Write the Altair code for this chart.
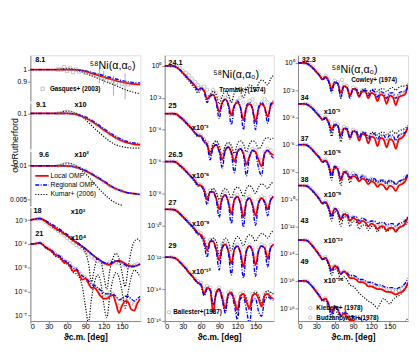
import altair as alt
import pandas as pd

FONT = "Liberation Sans"
RED, BLUE, BLACK, GRAY = "#ff0000", "#0000ff", "#000000", "#8a8a8a"

# ---------------- angles ----------------
ANG = [0, 5, 10, 15, 20, 25, 30, 35, 40, 45, 50, 55, 60, 65, 70, 75, 80, 85, 90,
       95, 100, 105, 110, 115, 120, 125, 130, 135, 140, 145, 150, 155, 160, 165,
       170, 175, 180]
DANG = ANG[2:-1]  # 10..175
ANG10 = [0, 10, 20, 30, 40, 50, 60, 70, 80, 90, 100, 110, 120, 130, 140, 150, 160, 170, 180]

# ---------------- panel 1 (8.1 - 21 MeV) ----------------
A_RED = [1, 1, 1, 1, 1, 1, 1, 1.0, 0.995, 0.985, 0.97, 0.955, 0.94, 0.925, 0.91, 0.898, 0.889, 0.882, 0.878]
A_BLUE = [1, 1, 1, 1, 1, 1, 1, 1.0, 0.997, 0.99, 0.978, 0.965, 0.952, 0.938, 0.924, 0.912, 0.902, 0.895, 0.892]
A_KUM = [1, 1, 1, 1, 1.0, 1.005, 1.01, 1.005, 0.99, 0.97, 0.95, 0.93, 0.91, 0.89, 0.87, 0.85, 0.83, 0.815, 0.805]
A_DANG = [45, 50, 55, 60, 65, 70, 75, 80, 90, 100, 110, 120, 130, 140, 150, 160]
A_DAT = [1.0, 1.0, 1.02, 0.99, 1.01, 0.98, 1.0, 0.985, 0.975, 0.965, 0.95, 0.93, 0.91, 0.895, 0.885, 0.88]
A_ERR_ANG = [113, 120, 136, 155]
A_ERR_LO = [0.89, 0.88, 0.79, 0.76]
A_ERR_HI = [1.01, 0.99, 0.95, 0.97]

B_RED = [0.1, 0.1, 0.1, 0.1, 0.1, 0.1, 0.1, 0.099, 0.096, 0.091, 0.085, 0.078, 0.071, 0.065, 0.06, 0.0565, 0.054, 0.0525, 0.052]
B_BLUE = [0.1, 0.1, 0.1, 0.1, 0.1, 0.1, 0.1, 0.0995, 0.097, 0.093, 0.087, 0.08, 0.073, 0.067, 0.062, 0.058, 0.0555, 0.054, 0.0535]
B_KUM = [0.1, 0.1, 0.1, 0.1, 0.1, 0.102, 0.105, 0.103, 0.097, 0.088, 0.078, 0.069, 0.062, 0.056, 0.052, 0.05, 0.049, 0.0485, 0.0485]
B_DANG = [45, 50, 55, 60, 65, 70, 75, 80, 90, 100, 110, 120, 130, 140, 150]
B_DAT = [0.1, 0.101, 0.103, 0.104, 0.102, 0.1, 0.098, 0.096, 0.092, 0.085, 0.078, 0.071, 0.065, 0.061, 0.057]

C_RED = [0.01, 0.01, 0.01, 0.01, 0.01, 0.01, 0.01, 0.0098, 0.0095, 0.009, 0.0084, 0.0078, 0.0072, 0.0066, 0.0062, 0.0059, 0.0057, 0.0056, 0.0055]
C_BLUE = [0.01, 0.01, 0.01, 0.01, 0.01, 0.01, 0.01, 0.0099, 0.0096, 0.0091, 0.0085, 0.0079, 0.0073, 0.0067, 0.0062, 0.0059, 0.0057, 0.0056, 0.0055]
C_KUM = [0.01, 0.01, 0.01, 0.01, 0.01, 0.0102, 0.0106, 0.0103, 0.0095, 0.0085, 0.0074, 0.0064, 0.0056, 0.005, 0.0046, 0.0044]
C_DANG = [45, 50, 55, 60, 65, 70, 75, 80, 90, 100, 110, 120, 130, 140, 150]
C_DAT = [0.01, 0.0101, 0.0103, 0.0104, 0.0102, 0.01, 0.0098, 0.0096, 0.0091, 0.0085, 0.0078, 0.0071, 0.0066, 0.0062, 0.0059]

# section D: absolute log10 values
D18_RED = [-3.0, -2.97, -2.95, -2.93, -2.97, -3.05, -3.15, -3.23, -3.32, -3.4,
           -3.47, -3.56, -3.65, -3.75, -3.85, -3.94, -4.03, -4.11, -4.2,
           -4.31, -4.42, -4.52, -4.62, -4.71, -4.8, -4.85, -4.88, -4.8, -4.72,
           -4.7, -4.75, -4.82, -4.9, -4.93, -4.93, -4.9, -4.85]
D18_BLUE = [-3.0, -2.97, -2.95, -2.94, -2.97, -3.03, -3.1, -3.17, -3.25, -3.33,
            -3.42, -3.51, -3.6, -3.7, -3.8, -3.9, -4.0, -4.1, -4.2,
            -4.31, -4.42, -4.52, -4.62, -4.7, -4.78, -4.81, -4.82, -4.76, -4.7,
            -4.74, -4.8, -4.88, -4.95, -4.96, -4.95, -4.9, -4.85]
D18_KUM = [-3.0, -2.97, -2.95, -2.94, -2.98, -3.07, -3.17, -3.26, -3.36, -3.45,
           -3.52, -3.6, -3.68, -3.78, -3.88, -3.96, -4.05, -4.15, -4.35,
           -4.8, -5.6, -5.0, -4.6, -4.7, -5.3, -5.9, -5.1, -4.6, -4.4,
           -4.6, -5.2, -5.8, -5.0, -4.3, -3.9, -3.8, -3.9]
D18_DAT = [-2.96, -2.94, -2.98, -3.08, -3.18, -3.28, -3.35, -3.45, -3.55, -3.63,
           -3.75, -3.85, -3.95, -4.05, -4.12, -4.2, -4.32, -4.42, -4.55, -4.62,
           -4.72, -4.78, -4.82, -4.85, -4.75, -4.72, -4.78, -4.82, -4.85, -4.9,
           -4.95, -4.92, -4.9, -4.85]
D21_RED = [-4.0, -4.0, -3.98, -3.96, -4.02, -4.15, -4.22, -4.3, -4.45, -4.5,
           -4.6, -4.78, -4.8, -4.95, -5.15, -5.1, -5.3, -5.5, -5.45,
           -5.65, -5.85, -5.85, -6.0, -6.2, -6.3, -6.3, -6.2, -6.15, -6.5,
           -6.9, -6.6, -6.4, -6.45, -6.75, -6.8, -6.5, -6.3]
D21_BLUE = [-4.0, -4.0, -3.98, -3.96, -4.02, -4.13, -4.2, -4.28, -4.4, -4.47,
            -4.55, -4.7, -4.75, -4.88, -5.02, -5.05, -5.2, -5.35, -5.4,
            -5.55, -5.7, -5.75, -5.85, -5.95, -6.05, -6.1, -6.1, -6.12, -6.2,
            -6.35, -6.3, -6.2, -6.2, -6.3, -6.4, -6.3, -6.2]
D21_KUM = [-4.0, -4.0, -3.98, -3.96, -4.03, -4.17, -4.25, -4.35, -4.5, -4.56,
           -4.66, -4.8, -4.85, -5.0, -5.2, -5.25, -5.4, -5.8, -6.6,
           -7.3, -6.3, -5.6, -5.3, -5.6, -6.5, -7.1, -6.2, -5.5, -5.2,
           -5.4, -6.0, -6.7, -6.0, -5.4, -5.1, -5.2, -5.4]
D21_DAT = [-3.98, -3.96, -4.0, -4.12, -4.2, -4.28, -4.4, -4.48, -4.55, -4.7,
           -4.75, -4.82, -5.0, -5.05, -5.2, -5.35, -5.4, -5.55, -5.7, -5.75,
           -5.9, -6.0, -6.1, -6.15, -6.05, -6.1, -6.3, -6.6, -6.35, -6.25,
           -6.3, -6.5, -6.55, -6.4]

# ---------------- panel 2 (24.1 - 29 MeV) relative log10 ----------------
P2_E = ["24.1", "25", "26.5", "27", "29"]
P2_OFF = [0, -3, -6, -9, -12]
P2_RED = [
    [0, 0, 0, -0.02, -0.1, -0.25, -0.45, -0.65, -0.85, -1.05, -1.25, -1.5, -1.4, -1.55, -2.1,
     -1.9, -1.8, -2.2, -2.9, -2.3, -2.1, -2.4, -3.1, -2.5, -2.3, -2.6, -3.4, -2.6, -2.4, -2.7,
     -3.5, -2.7, -2.4, -2.6, -3.2, -2.5, -2.3],
    [0, 0, 0, 0, -0.05, -0.2, -0.35, -0.55, -0.75, -0.95, -1.2, -1.35, -1.4, -1.75, -1.9,
     -2.6, -2.1, -1.95, -2.3, -2.9, -2.3, -2.1, -2.4, -3.0, -2.4, -2.2, -2.5, -3.2, -2.7, -2.3,
     -2.4, -2.9, -3.3, -2.5, -2.3, -2.5, -2.6],
    [0, 0, 0, 0, -0.08, -0.25, -0.4, -0.6, -0.8, -1.0, -1.2, -1.45, -1.5, -1.8, -2.4,
     -1.9, -1.9, -2.3, -3.0, -2.3, -2.1, -2.5, -3.3, -2.4, -2.2, -2.6, -3.5, -2.5, -2.3, -2.7,
     -3.4, -2.6, -2.3, -2.5, -3.0, -2.4, -2.2],
    [0, 0, 0, -0.02, -0.1, -0.27, -0.45, -0.65, -0.85, -1.05, -1.25, -1.5, -1.6, -2.0, -2.6,
     -2.0, -2.0, -2.5, -3.2, -2.4, -2.2, -2.6, -3.4, -2.5, -2.3, -2.7, -3.6, -2.6, -2.3, -2.6,
     -3.5, -2.6, -2.3, -2.4, -3.1, -2.4, -2.2],
    [0, 0, 0, -0.03, -0.12, -0.3, -0.5, -0.7, -0.95, -1.15, -1.4, -1.6, -1.7, -2.3, -1.9,
     -2.0, -3.5, -2.2, -2.0, -2.5, -3.2, -2.3, -2.2, -2.7, -3.3, -2.4, -2.3, -2.8, -3.2, -2.4,
     -2.3, -2.6, -3.1, -2.4, -2.3, -2.5, -2.6],
]
P2_BLUE = [
    [0, 0, 0, -0.02, -0.1, -0.25, -0.45, -0.65, -0.85, -1.05, -1.3, -1.55, -1.4, -1.6, -2.3,
     -1.9, -1.8, -2.3, -3.3, -2.3, -2.1, -2.5, -3.7, -2.5, -2.2, -2.6, -4.0, -2.5, -2.3, -2.7,
     -4.0, -2.6, -2.3, -2.6, -3.6, -2.4, -2.2],
    [0, 0, 0, 0, -0.05, -0.2, -0.35, -0.55, -0.75, -0.95, -1.2, -1.4, -1.45, -1.8, -2.0,
     -2.9, -2.1, -1.95, -2.4, -3.4, -2.3, -2.1, -2.5, -3.7, -2.4, -2.2, -2.6, -3.9, -2.7, -2.3,
     -2.5, -3.4, -3.9, -2.5, -2.3, -2.6, -2.8],
    [0, 0, 0, 0, -0.08, -0.25, -0.4, -0.6, -0.8, -1.0, -1.25, -1.5, -1.55, -1.9, -2.7,
     -1.9, -1.9, -2.4, -3.5, -2.3, -2.1, -2.6, -3.9, -2.4, -2.2, -2.7, -4.1, -2.5, -2.3, -2.8,
     -4.0, -2.6, -2.3, -2.6, -3.4, -2.4, -2.2],
    [0, 0, 0, -0.02, -0.1, -0.27, -0.45, -0.65, -0.85, -1.05, -1.3, -1.55, -1.7, -2.2, -3.0,
     -2.0, -2.0, -2.6, -3.8, -2.4, -2.2, -2.7, -4.1, -2.5, -2.3, -2.8, -4.3, -2.6, -2.3, -2.7,
     -4.2, -2.6, -2.3, -2.5, -3.6, -2.4, -2.2],
    [0, 0, 0, -0.03, -0.12, -0.3, -0.5, -0.7, -0.95, -1.15, -1.4, -1.6, -1.75, -2.4, -2.0,
     -2.0, -3.0, -2.3, -2.0, -2.7, -3.5, -2.4, -2.3, -3.0, -3.9, -2.6, -2.5, -3.3, -4.2, -2.7,
     -2.6, -3.4, -3.7, -2.7, -2.5, -2.6, -2.7],
]
P2_KUM = [
    [0, 0, 0, -0.02, -0.12, -0.3, -0.5, -0.75, -0.95, -1.2, -1.45, -1.7, -1.5, -1.6, -2.0,
     -1.8, -1.6, -1.8, -2.4, -1.9, -1.6, -1.8, -2.3, -1.7, -1.4, -1.6, -2.0, -1.5, -1.2, -1.3,
     -1.6, -1.1, -0.9, -1.0, -1.2, -0.8, -0.6],
    [0, 0, 0, 0, -0.05, -0.22, -0.4, -0.6, -0.8, -1.0, -1.25, -1.45, -1.4, -1.6, -1.9,
     -2.4, -1.9, -1.7, -2.0, -2.6, -2.0, -1.8, -2.0, -2.5, -1.9, -1.7, -1.9, -2.4, -1.9, -1.7,
     -1.8, -2.2, -2.0, -1.6, -1.5, -1.6, -1.5],
    [0, 0, 0, 0, -0.08, -0.27, -0.45, -0.65, -0.85, -1.05, -1.3, -1.55, -1.5, -1.7, -2.2,
     -1.9, -1.7, -1.9, -2.4, -1.9, -1.7, -1.9, -2.3, -1.8, -1.6, -1.8, -2.2, -1.7, -1.5, -1.7,
     -2.0, -1.6, -1.4, -1.5, -1.7, -1.4, -1.3],
    [0, 0, 0, -0.02, -0.1, -0.3, -0.5, -0.7, -0.9, -1.1, -1.35, -1.6, -1.6, -1.8, -2.4,
     -2.0, -1.8, -2.0, -2.9, -2.2, -1.8, -2.0, -2.6, -2.0, -1.7, -1.9, -2.3, -1.8, -1.6, -1.7,
     -2.0, -1.7, -1.5, -1.6, -1.8, -1.5, -1.3],
    [0, 0, 0, -0.03, -0.12, -0.32, -0.55, -0.75, -1.0, -1.2, -1.45, -1.65, -1.8, -2.4, -2.0,
     -2.1, -3.0, -2.3, -2.1, -2.6, -3.4, -2.4, -2.2, -2.7, -3.6, -2.5, -2.3, -2.6, -3.3, -2.4,
     -2.2, -2.4, -2.9, -2.3, -2.1, -2.2, -2.3],
]
P2_DAT = [
    [0, 0, -0.05, -0.12, -0.3, -0.45, -0.6, -0.8, -1.0, -1.2, -1.35, -1.3, -1.5, -1.9, -1.7,
     -1.7, -2.0, -2.5, -2.0, -1.9, -2.2, -2.7, -2.2, -2.0, -2.3, -2.8, -2.2, -2.1, -2.4, -2.9,
     -2.3, -2.1, -2.3, -2.6],
    [0, 0, -0.05, -0.2, -0.35, -0.5, -0.7, -0.9, -1.1, -1.3, -1.35, -1.6, -1.8, -2.3, -2.0,
     -1.9, -2.2, -2.6, -2.2, -2.0, -2.3, -2.7, -2.3, -2.1, -2.4, -2.9, -2.5, -2.2, -2.3, -2.7,
     -2.9, -2.4, -2.2, -2.3],
    [0, 0, -0.05, -0.22, -0.4, -0.55, -0.75, -0.95, -1.15, -1.4, -1.45, -1.7, -2.1, -1.8, -1.8,
     -2.1, -2.6, -2.1, -2.0, -2.3, -2.8, -2.2, -2.1, -2.4, -3.0, -2.3, -2.2, -2.5, -2.9, -2.4,
     -2.2, -2.3, -2.7, -2.2],
    [0, -0.02, -0.08, -0.25, -0.42, -0.6, -0.8, -1.0, -1.2, -1.4, -1.5, -1.8, -2.2, -1.9, -1.9,
     -2.3, -2.7, -2.2, -2.1, -2.4, -2.9, -2.3, -2.2, -2.5, -3.0, -2.4, -2.2, -2.4, -2.9, -2.4,
     -2.2, -2.3, -2.7, -2.2],
    [0, -0.03, -0.1, -0.28, -0.45, -0.65, -0.9, -1.1, -1.35, -1.5, -1.6, -2.0, -1.8, -1.9, -2.8,
     -2.1, -1.9, -2.3, -2.8, -2.2, -2.1, -2.5, -2.9, -2.3, -2.2, -2.6, -2.9, -2.3, -2.2, -2.4,
     -2.8, -2.3, -2.2, -2.3],
]

# ---------------- panel 3 (32.3 - 49 MeV) relative log10 ----------------
P3_E = ["32.3", "34", "37", "38", "43", "49"]
P3_OFF = [0, -3, -6, -9, -13, -16]
P3_RED = [
    [0, 0, 0, -0.05, -0.2, -0.4, -0.65, -0.9, -1.2, -1.0, -1.3, -1.9, -1.4, -1.5, -2.2,
     -1.7, -1.8, -2.4, -1.9, -2.0, -2.5, -2.1, -2.1, -2.6, -2.2, -2.3, -2.8, -2.3, -2.4, -3.0,
     -2.4, -2.5, -3.1, -2.5, -2.4, -2.3, -1.6],
    [0, 0, 0, -0.05, -0.2, -0.4, -0.65, -0.9, -1.15, -1.0, -1.35, -1.9, -1.5, -1.6, -2.3,
     -1.8, -1.9, -2.5, -2.0, -2.1, -2.7, -2.2, -2.3, -2.9, -2.4, -2.5, -3.1, -2.5, -2.6, -3.2,
     -2.6, -2.7, -3.3, -2.6, -2.5, -2.2, -1.7],
    [0, 0, 0, -0.05, -0.22, -0.45, -0.7, -0.95, -1.25, -1.15, -1.5, -2.2, -1.6, -1.8, -2.6,
     -2.0, -2.1, -2.5, -2.3, -2.4, -2.7, -2.5, -2.6, -2.9, -2.7, -2.8, -3.1, -2.9, -3.0, -3.3,
     -3.0, -3.1, -3.4, -3.0, -2.9, -2.7, -2.2],
    [0, 0, 0, -0.05, -0.22, -0.45, -0.7, -1.0, -1.3, -1.2, -1.6, -2.2, -1.7, -1.9, -2.5,
     -2.1, -2.2, -2.6, -2.4, -2.5, -2.8, -2.6, -2.7, -3.0, -2.8, -2.9, -3.2, -3.0, -3.0, -3.3,
     -3.1, -3.1, -3.4, -3.1, -3.0, -2.8, -2.3],
    [0, 0, 0, -0.05, -0.25, -0.5, -0.8, -1.1, -1.4, -1.3, -1.7, -2.2, -1.9, -2.1, -2.5,
     -2.3, -2.5, -2.8, -2.8, -2.9, -3.1, -3.1, -3.2, -3.4, -3.4, -3.5, -3.6, -3.6, -3.7, -3.8,
     -3.8, -3.9, -4.0, -3.9, -3.8, -3.6, -3.1],
    [0, 0, 0, -0.05, -0.25, -0.5, -0.8, -1.1, -1.4, -1.3, -1.7, -2.3, -1.9, -2.1, -2.6,
     -2.4, -2.6, -2.9, -2.9, -3.1, -3.3, -3.3, -3.5, -3.7, -3.7, -3.8, -4.0, -4.0, -4.1, -4.2,
     -4.3, -4.4, -4.5, -4.5, -4.4, -4.2, -3.6],
]
P3_BLUE = [
    [0, 0, 0, -0.05, -0.2, -0.4, -0.65, -0.9, -1.2, -1.05, -1.35, -2.1, -1.4, -1.5, -2.5,
     -1.7, -1.8, -2.6, -1.9, -1.9, -2.4, -2.0, -2.0, -2.4, -2.0, -2.1, -2.5, -2.1, -2.2, -2.6,
     -2.2, -2.2, -2.6, -2.2, -2.1, -2.1, -1.7],
    [0, 0, 0, -0.05, -0.2, -0.4, -0.65, -0.9, -1.15, -1.05, -1.4, -2.1, -1.5, -1.6, -2.5,
     -1.8, -1.8, -2.5, -2.0, -2.0, -2.5, -2.1, -2.2, -2.6, -2.2, -2.2, -2.6, -2.3, -2.3, -2.6,
     -2.3, -2.3, -2.7, -2.3, -2.2, -2.1, -1.7],
    [0, 0, 0, -0.05, -0.22, -0.45, -0.7, -0.95, -1.25, -1.2, -1.55, -2.4, -1.6, -1.8, -2.5,
     -2.0, -2.0, -2.4, -2.2, -2.2, -2.5, -2.3, -2.4, -2.6, -2.5, -2.5, -2.7, -2.6, -2.6, -2.8,
     -2.6, -2.7, -2.9, -2.7, -2.6, -2.5, -2.1],
    [0, 0, 0, -0.05, -0.22, -0.45, -0.7, -1.0, -1.3, -1.25, -1.65, -2.4, -1.7, -1.9, -2.5,
     -2.1, -2.1, -2.5, -2.3, -2.3, -2.6, -2.4, -2.5, -2.7, -2.6, -2.6, -2.8, -2.7, -2.7, -2.9,
     -2.8, -2.8, -3.0, -2.8, -2.7, -2.6, -2.3],
    [0, 0, 0, -0.05, -0.25, -0.5, -0.8, -1.1, -1.4, -1.35, -1.75, -2.4, -1.9, -2.0, -2.5,
     -2.3, -2.4, -2.6, -2.6, -2.7, -2.9, -2.9, -3.0, -3.1, -3.1, -3.2, -3.3, -3.3, -3.4, -3.5,
     -3.5, -3.5, -3.6, -3.5, -3.4, -3.2, -2.8],
    [0, 0, 0, -0.05, -0.25, -0.5, -0.8, -1.1, -1.4, -1.35, -1.75, -2.5, -1.9, -2.0, -2.5,
     -2.3, -2.4, -2.6, -2.6, -2.7, -2.8, -2.8, -2.9, -3.0, -3.0, -3.0, -3.1, -3.1, -3.1, -3.2,
     -3.2, -3.2, -3.3, -3.2, -3.1, -3.0, -2.7],
]
P3_KUM = [
    [0, 0, 0, -0.05, -0.22, -0.45, -0.7, -0.95, -1.25, -1.1, -1.4, -2.2, -1.5, -1.6, -2.6,
     -1.8, -1.8, -2.4, -1.9, -1.9, -2.2, -2.0, -1.9, -2.2, -2.0, -1.9, -2.1, -1.9, -1.9, -2.1,
     -1.9, -1.8, -2.0, -1.8, -1.7, -1.7, -1.5],
    [0, 0, 0, -0.05, -0.22, -0.45, -0.7, -0.95, -1.2, -1.1, -1.5, -2.4, -1.6, -1.7, -2.8,
     -1.9, -1.9, -2.6, -2.0, -2.0, -2.4, -2.1, -2.1, -2.4, -2.1, -2.1, -2.3, -2.1, -2.1, -2.3,
     -2.1, -2.0, -2.2, -2.0, -1.9, -1.8, -1.6],
    [0, 0, 0, -0.05, -0.25, -0.5, -0.75, -1.0, -1.3, -1.25, -1.7, -2.6, -1.7, -1.9, -3.0,
     -2.1, -2.1, -2.8, -2.3, -2.3, -2.6, -2.5, -2.5, -2.7, -2.6, -2.6, -2.8, -2.7, -2.7, -2.9,
     -2.7, -2.7, -2.9, -2.7, -2.6, -2.5, -2.3],
    [0, 0, 0, -0.05, -0.25, -0.5, -0.75, -1.05, -1.35, -1.3, -1.8, -2.6, -1.9, -2.1, -3.0,
     -2.3, -2.3, -3.0, -2.6, -2.7, -3.2, -2.9, -2.9, -3.3, -3.0, -3.0, -3.4, -3.1, -3.1, -3.4,
     -3.2, -3.1, -3.3, -3.1, -3.0, -2.9, -2.7],
    [0, 0, 0, -0.05, -0.27, -0.55, -0.85, -1.15, -1.45, -1.4, -1.9, -2.6, -2.1, -2.3, -2.9,
     -2.7, -2.9, -3.3, -3.4, -3.6, -3.9, -4.1, -4.3, -4.5, -4.6, -4.8, -5.0, -4.6, -4.3, -4.5,
     -4.7, -4.4, -4.2, -4.1, -3.9, -3.6, -3.3],
    [0, 0, 0, -0.05, -0.27, -0.55, -0.85, -1.15, -1.5, -1.45, -2.0, -2.7, -2.2, -2.4, -3.0,
     -2.9, -3.1, -3.5, -3.5, -3.7, -3.9, -3.8, -3.9, -4.1, -4.0, -4.1, -4.3, -4.3, -4.4, -4.6,
     -4.6, -4.7, -4.9, -4.9, -5.0, -4.9, -4.7],
]
P3_DAT = [
    [0, -0.03, -0.15, -0.35, -0.6, -0.85, -1.1, -0.95, -1.2, -1.6, -1.3, -1.4, -1.9, -1.6, -1.7,
     -2.1, -1.8, -1.9, -2.3, -2.0, -2.0, -2.4, -2.1, -2.2, -2.5, -2.2, -2.3, -2.6, -2.3, -2.3,
     -2.7, -2.4, -2.3, -2.1],
    [0, -0.03, -0.15, -0.35, -0.6, -0.85, -1.1, -0.95, -1.25, -1.7, -1.4, -1.5, -2.0, -1.7, -1.8,
     -2.2, -1.9, -2.0, -2.4, -2.1, -2.2, -2.6, -2.3, -2.3, -2.7, -2.4, -2.4, -2.8, -2.5, -2.5,
     -2.8, -2.4, -2.3, -2.0],
    [0, -0.03, -0.17, -0.4, -0.65, -0.9, -1.2, -1.1, -1.4, -1.9, -1.6, -1.7, -2.2, -1.9, -2.0,
     -2.3, -2.1, -2.2, -2.5, -2.3, -2.4, -2.6, -2.5, -2.6, -2.8, -2.7, -2.7, -2.9, -2.7, -2.8,
     -3.0, -2.8, -2.7, -2.4],
    [0, -0.03, -0.17, -0.4, -0.65, -0.95, -1.25, -1.15, -1.5, -2.0, -1.7, -1.8, -2.3, -2.0, -2.1,
     -2.4, -2.3, -2.4, -2.6, -2.5, -2.6, -2.8, -2.7, -2.8, -3.0, -2.9, -2.9, -3.1, -3.0, -3.0,
     -3.2, -3.0, -2.9, -2.6],
    [0, -0.03, -0.2, -0.45, -0.75, -1.05, -1.35, -1.25, -1.6, -2.0, -1.9, -2.0, -2.4, -2.3, -2.4,
     -2.7, -2.7, -2.8, -3.0, -3.0, -3.1, -3.3, -3.3, -3.4, -3.5, -3.5, -3.6, -3.7, -3.7, -3.7,
     -3.8, -3.7, -3.6, -3.3],
    [0, -0.03, -0.2, -0.45, -0.75, -1.05, -1.35, -1.25, -1.6, -2.1, -1.9, -2.0, -2.5, -2.4, -2.5,
     -2.8, -2.8, -3.0, -3.2, -3.2, -3.4, -3.6, -3.6, -3.7, -3.9, -3.9, -4.0, -4.1, -4.2, -4.2,
     -4.3, -4.2, -4.1, -3.8],
]

# ---------------- helpers ----------------
SUPMAP = {"0": "⁰", "1": "¹", "2": "²", "3": "³", "4": "⁴", "5": "⁵", "6": "⁶",
          "7": "⁷", "8": "⁸", "9": "⁹", "-": "⁻"}


def sup(n):
    return "".join(SUPMAP[c] for c in str(n))


def pow_expr(exps):
    parts = [f"abs(log(datum.value)/LN10-({e}))<0.01 ? '10{sup(e)}'" for e in exps]
    return " : ".join(parts) + " : ''"


H = 273
SC = H / 279.0
W1, W2, W3 = 113, 112, 113

XSCALE = alt.Scale(domain=[0, 180], nice=False, zero=False)
XAX = alt.Axis(values=[0, 30, 60, 90, 120, 150], title="ϑc.m. [deg]", tickSize=3,
               labelFontSize=7.5, titleFontSize=8.5, titlePadding=2, labelPadding=-1, grid=False)
X = alt.X("ang:Q", scale=XSCALE, axis=XAX)


def curves_df(rows):
    recs = []
    for (e, model, angs, vals) in rows:
        assert len(angs) == len(vals), (e, model, len(angs), len(vals))
        for a, v in zip(angs, vals):
            recs.append({"E": e, "model": model, "ang": a, "val": v})
    return pd.DataFrame(recs)


STYLE = [("Kumar", BLACK, [1.2, 1.6], 1.2), ("Local", RED, None, 1.8), ("Regional", BLUE, [4, 1.5, 1, 1.5], 1.4)]


def line_layers(df, Y):
    out = []
    for model, color, dash, wd in STYLE:
        sub = df[df.model == model]
        if len(sub) == 0:
            continue
        kw = dict(color=color, strokeWidth=wd, clip=True, interpolate="monotone")
        if dash:
            kw["strokeDash"] = dash
        out.append(alt.Chart(sub).mark_line(**kw).encode(x=X, y=Y, detail="E:N"))
    return out


def point_layer(df, Y, shape="circle"):
    return alt.Chart(df).mark_point(shape=shape, filled=False, size=12, strokeWidth=0.7,
                                    color=GRAY, clip=True).encode(x=X, y=Y, detail="E:N")


def text_layer(df, Y, size=7.5, weight="bold"):
    return alt.Chart(df).mark_text(align="left", baseline="middle", font=FONT, fontSize=size,
                                   fontWeight=weight, color=BLACK).encode(x=X, y=Y, text="t:N")


def texts(items):
    return pd.DataFrame([{"t": t, "ang": a, "val": v} for t, a, v in items])


# ---------------- panel 1 sections ----------------
def yaxis(values, expr=None, **kw):
    d = dict(values=values, tickSize=3, labelFontSize=7, labelPadding=1, grid=False, orient="left",
             minExtent=19, maxExtent=19, title=None)
    if expr:
        d["labelExpr"] = expr
    d.update(kw)
    return alt.Axis(**d)


YA = alt.Y("val:Q", scale=alt.Scale(type="linear", domain=[0.746, 1.115], range=[48 * SC, 0],
                                    nice=False, zero=False),
           axis=yaxis([0.9, 1.0], "datum.value == 1 ? '1' : '0.9'"))
YB = alt.Y("val:Q", scale=alt.Scale(type="log", domain=[10 ** -1.319, 10 ** -0.905],
                                    range=[98 * SC, 50 * SC], nice=False),
           axis=yaxis([0.1], "'0.1'", title="σ/σRutherford", titleFontSize=9, titleFont=FONT,
                      titleFontWeight="normal", titleX=-16, titleY=92, titleAngle=-90,
                      titleBaseline="middle", titleAlign="center"))
YC = alt.Y("val:Q", scale=alt.Scale(type="log", domain=[10 ** -2.362, 10 ** -1.871],
                                    range=[158 * SC, 101 * SC], nice=False),
           axis=yaxis([0.01, 0.005], "datum.value > 0.007 ? '0.01' : '0.005'"))
YD = alt.Y("val:Q", scale=alt.Scale(type="log", domain=[10 ** -7.24, 10 ** -2.48],
                                    range=[279 * SC, 160 * SC], nice=False),
           axis=yaxis([1e-3, 1e-4, 1e-5, 1e-6, 1e-7], pow_expr([-3, -4, -5, -6, -7])))

dfA = curves_df([("8.1", "Local", ANG10, A_RED), ("8.1", "Regional", ANG10, A_BLUE),
                 ("8.1", "Kumar", ANG10, A_KUM)])
ptsA = pd.DataFrame({"E": "8.1", "ang": A_DANG, "val": A_DAT})
errA = pd.DataFrame({"ang": A_ERR_ANG, "val": A_ERR_LO, "hi": A_ERR_HI})
secA = alt.layer(
    *line_layers(dfA, YA),
    point_layer(ptsA, YA, "square"),
    alt.Chart(errA).mark_rule(color=GRAY, strokeWidth=0.7).encode(x=X, y=YA, y2="hi:Q"),
    text_layer(texts([("8.1", 8, 1.075)]), YA),
    text_layer(texts([("⁵⁸Ni(α,α₀)", 97, 1.03)]), YA, size=11, weight="normal"),
    text_layer(texts([("Gasques+ (2003)", 32, 0.845)]), YA, size=6.5),
    point_layer(pd.DataFrame({"E": ["x"], "ang": [20], "val": [0.845]}), YA, "square"),
)

dfB = curves_df([("9.1", "Local", ANG10, B_RED), ("9.1", "Regional", ANG10, B_BLUE),
                 ("9.1", "Kumar", ANG10, B_KUM)])
ptsB = pd.DataFrame({"E": "9.1", "ang": B_DANG, "val": B_DAT})
secB = alt.layer(
    *line_layers(dfB, YB),
    point_layer(ptsB, YB),
    text_layer(texts([("9.1", 9, 0.118), ("x10", 72, 0.118)]), YB),
)

dfC = curves_df([("9.6", "Local", ANG10, C_RED), ("9.6", "Regional", ANG10, C_BLUE),
                 ("9.6", "Kumar", ANG10[:len(C_KUM)], C_KUM)])
ptsC = pd.DataFrame({"E": "9.6", "ang": C_DANG, "val": C_DAT})
LEG_Y = [0.0081, 0.0067, 0.0055]
dfLeg = curves_df([("L1", "Local", [8, 30], [LEG_Y[0], LEG_Y[0]]),
                   ("L2", "Regional", [8, 30], [LEG_Y[1], LEG_Y[1]]),
                   ("L3", "Kumar", [8, 30], [LEG_Y[2], LEG_Y[2]])])
secC = alt.layer(
    *line_layers(dfC, YC),
    point_layer(ptsC, YC),
    *line_layers(dfLeg, YC),
    text_layer(texts([("9.6", 14, 0.0124), ("x10²", 72, 0.0124)]), YC),
    text_layer(texts([("Local OMP", 33, LEG_Y[0]), ("Regional OMP", 33, LEG_Y[1]),
                      ("Kumar+ (2006)", 33, LEG_Y[2])]), YC, size=7, weight="normal"),
)

dfD = curves_df([("18", "Local", ANG, [10 ** v for v in D18_RED]),
                 ("18", "Regional", ANG, [10 ** v for v in D18_BLUE]),
                 ("18", "Kumar", ANG, [10 ** v for v in D18_KUM]),
                 ("21", "Local", ANG, [10 ** v for v in D21_RED]),
                 ("21", "Regional", ANG, [10 ** v for v in D21_BLUE]),
                 ("21", "Kumar", ANG, [10 ** v for v in D21_KUM])])
ptsD = curves_df([("18", "data", DANG, [10 ** v for v in D18_DAT]),
                  ("21", "data", DANG, [10 ** v for v in D21_DAT])])
secD = alt.layer(
    point_layer(ptsD, YD),
    *line_layers(dfD, YD),
    text_layer(texts([("18", 5, 10 ** -2.6), ("x10³", 66, 10 ** -2.65),
                      ("21", 8, 10 ** -3.6), ("x10⁴", 66, 10 ** -3.75)]), YD),
)

panel1 = alt.layer(secA, secB, secC, secD).resolve_scale(y="independent").properties(width=W1, height=H)


# ---------------- panels 2 and 3 ----------------
def big_panel(E, OFF, RED_L, BLUE_L, KUM_L, DAT_L, dom, exps, width, txt_items, title_item,
              ref_items, small_items):
    rows = []
    prow = []
    for i, e in enumerate(E):
        o = OFF[i]
        rows.append((e, "Local", ANG, [10 ** (v + o) for v in RED_L[i]]))
        rows.append((e, "Regional", ANG, [10 ** (v + o) for v in BLUE_L[i]]))
        rows.append((e, "Kumar", ANG, [10 ** (v + o) for v in KUM_L[i]]))
        prow.append((e, "data", DANG, [10 ** (v + o) for v in DAT_L[i]]))
    df = curves_df(rows)
    pts = curves_df(prow)
    Y = alt.Y("val:Q", scale=alt.Scale(type="log", domain=dom, nice=False),
              axis=alt.Axis(values=[10 ** e for e in exps], labelExpr=pow_expr(exps), tickSize=3,
                            labelFontSize=7, labelPadding=1, grid=False, title=None,
                            minExtent=16, maxExtent=16))
    layers = [point_layer(pts, Y)] + line_layers(df, Y)
    layers.append(text_layer(texts(txt_items), Y))
    layers.append(text_layer(texts([title_item]), Y, size=11, weight="normal"))
    layers.append(text_layer(texts(ref_items), Y, size=6.5))
    sym = pd.DataFrame([{"E": "s", "ang": a, "val": v} for a, v in small_items])
    layers.append(point_layer(sym, Y))
    return alt.layer(*layers).properties(width=width, height=H)


panel2 = big_panel(
    P2_E, P2_OFF, P2_RED, P2_BLUE, P2_KUM, P2_DAT, [1e-16, 10 ** 0.657],
    [0, -2, -4, -6, -8, -10, -12, -14, -16], W2,
    [("24.1", 6, 10 ** 0.2), ("25", 6, 10 ** -2.5), ("x10⁻³", 45, 10 ** -3.9),
     ("26.5", 6, 10 ** -5.6), ("x10⁻⁶", 45, 10 ** -6.9), ("27", 6, 10 ** -8.6),
     ("x10⁻⁹", 45, 10 ** -9.9), ("29", 6, 10 ** -11.3), ("x10⁻¹²", 45, 10 ** -12.9)],
    ("⁵⁸Ni(α,α₀)", 80, 10 ** -0.55),
    [("Trombik+(1974)", 90, 10 ** -1.5), ("Ballester+(1987)", 14, 10 ** -15.45)],
    [(80, 10 ** -1.5), (7, 10 ** -15.45)])

panel3 = big_panel(
    P3_E, P3_OFF, P3_RED, P3_BLUE, P3_KUM, P3_DAT, [10 ** -18.95, 10 ** 0.56],
    [0, -2, -4, -6, -8, -10, -12, -14, -16, -18], W3,
    [("32.3", 6, 10 ** 0.25), ("34", 4, 10 ** -2.6), ("x10⁻³", 42, 10 ** -3.6),
     ("37", 4, 10 ** -5.6), ("x10⁻⁶", 42, 10 ** -6.6), ("38", 4, 10 ** -8.6),
     ("x10⁻⁹", 42, 10 ** -9.7), ("43", 4, 10 ** -11.6), ("x10⁻¹³", 42, 10 ** -13.1),
     ("49", 4, 10 ** -14.6), ("x10⁻¹⁶", 42, 10 ** -16.0)],
    ("⁵⁸Ni(α,α₀)", 55, 10 ** -0.5),
    [("Cowley+ (1974)", 87, 10 ** -1.25), ("Kiebele+ (1978)", 30, 10 ** -18.0),
     ("Budzanowski+(1978)", 30, 10 ** -18.7)],
    [(72, 10 ** -1.25), (20, 10 ** -18.0), (20, 10 ** -18.7)])

chart = alt.hconcat(panel1, panel2, panel3, spacing=4).properties(
    padding={"top": 43, "left": 0, "right": 0, "bottom": 0}
).configure_view(stroke="black", strokeWidth=1).configure_axis(
    labelFont=FONT, titleFont=FONT, domainColor="black", tickColor="black",
    labelColor="black", titleColor="black", titleFontWeight="normal", domainWidth=1
).configure(background="white")

chart.save("out.html", embed_options={"renderer": "svg", "actions": False})
